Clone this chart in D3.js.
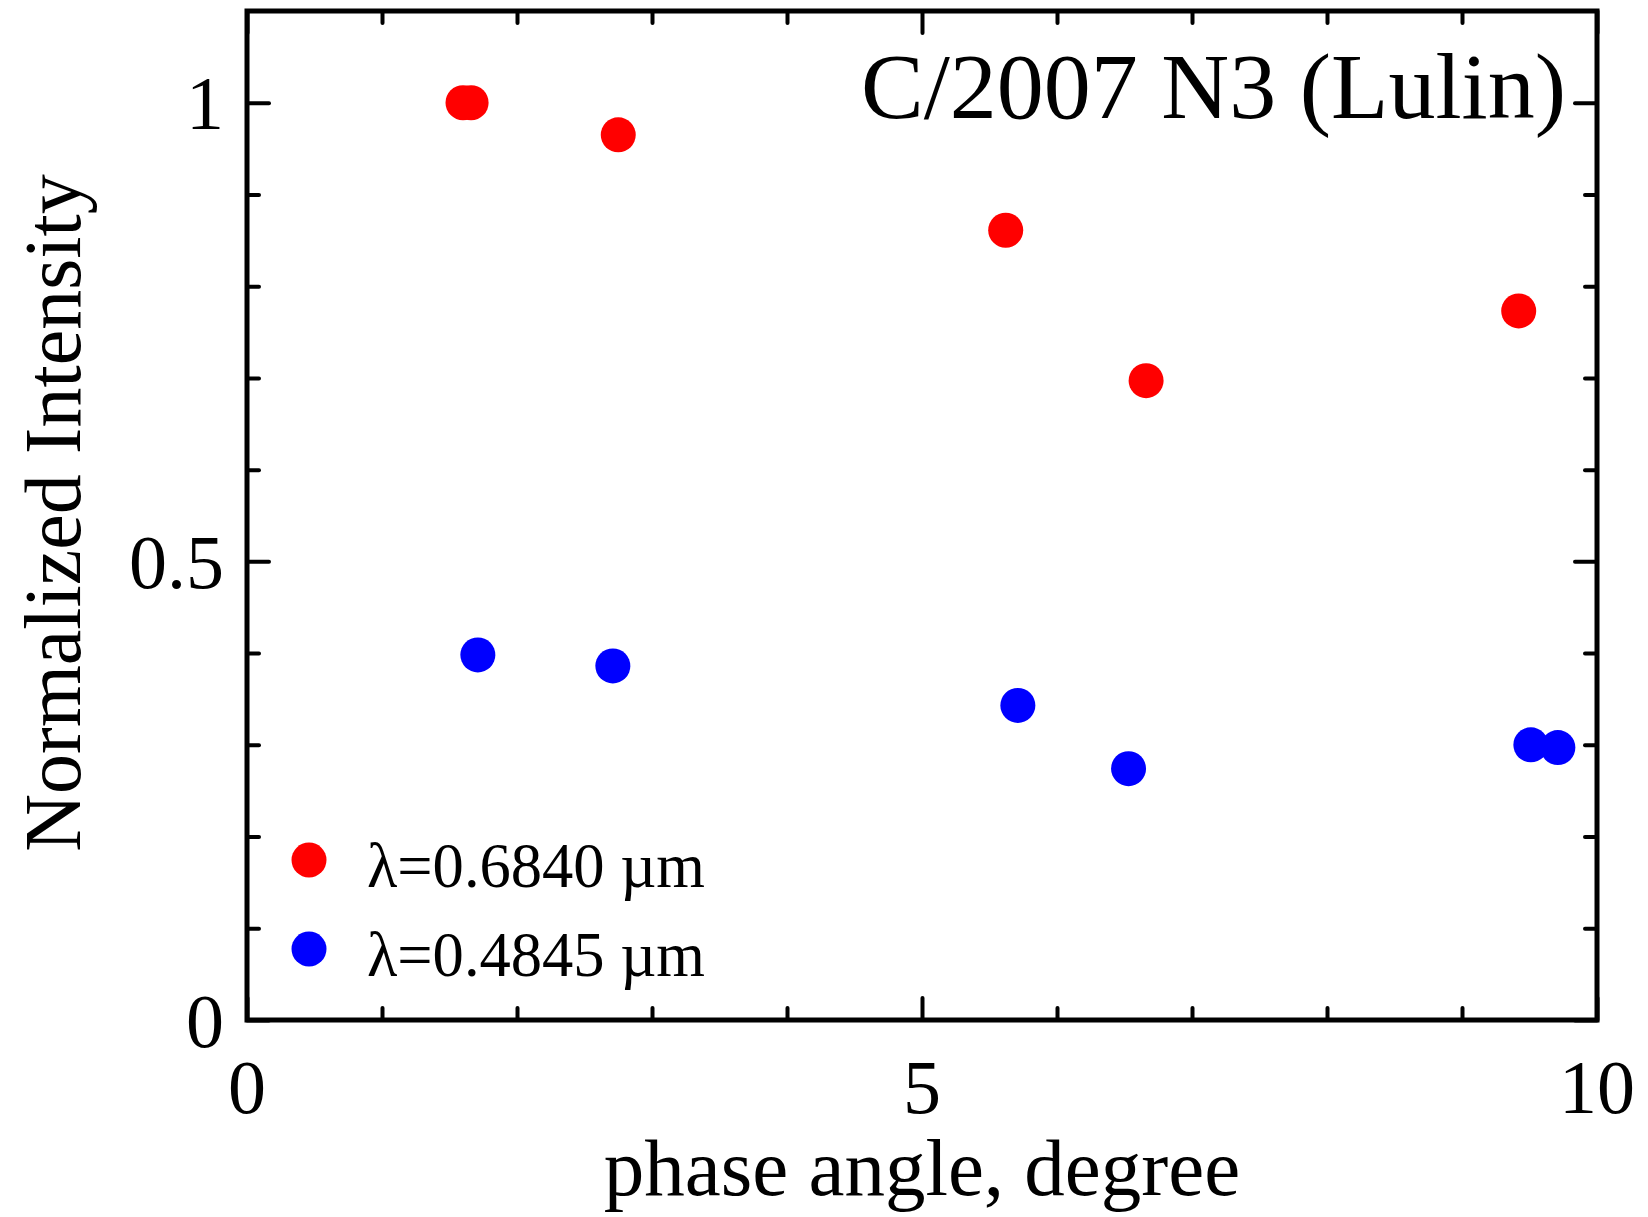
<!DOCTYPE html>
<html>
<head>
<meta charset="utf-8">
<script src="https://cdn.jsdelivr.net/npm/d3@7"></script>
<style>
  html, body { margin: 0; padding: 0; background: #fff; }
  svg text { font-family: "Liberation Serif", "DejaVu Serif", serif; fill: #000; }
</style>
</head>
<body>
<svg id="chart"></svg>
<script>
// data
var redPhase = [1.60, 1.66, 2.75, 5.62, 6.66, 9.42],
    redIntensity = [1.0, 1.0, 0.965, 0.861, 0.697, 0.773],
    bluePhase = [1.71, 2.71, 5.71, 6.53, 9.51, 9.71],
    blueIntensity = [0.398, 0.386, 0.343, 0.274, 0.300, 0.297];
var xMajor = [0, 5, 10],
    yMajor = [0, 0.5, 1],
    yMajorLabels = ['0', '0.5', '1'];
var legendLabels = ['\u03bb=0.6840 \u00b5m', '\u03bb=0.4845 \u00b5m'],
    seriesColors = ['#ff0000', '#0000ff'];

var width = 1648,
    height = 1217,
    margin = { top: 11, right: 51, bottom: 197, left: 247 };

var svg = d3.select('#chart')
    .attr('width', width)
    .attr('height', height);

var x = d3.scaleLinear().domain([0, 10]).range([margin.left, width - margin.right]),
    y = d3.scaleLinear().domain([0, 1.1]).range([height - margin.bottom, margin.top]);

var xMinor = d3.range(0, 11).filter(function (d) { return xMajor.indexOf(d) < 0; }),
    yMinor = d3.range(0, 11).map(function (d) { return d / 10; })
        .filter(function (d) { return yMajor.indexOf(d) < 0; });

//tick marks on all four sides, pointing inward
function tickGroup(axisFn, scale, vals, len, tx, ty) {
    var g = svg.append('g')
        .attr('transform', 'translate(' + tx + ',' + ty + ')')
        .call(axisFn(scale).tickValues(vals).tickSize(len).tickFormat(''));
    g.select('.domain').remove();
    g.selectAll('.tick line')
        .attr('stroke', '#000')
        .attr('stroke-width', 4)
        .attr('stroke-linecap', 'round');
    return g;
}
var x0 = x(0), x1 = x(10), y0 = y(0), y1 = y(1.1);
tickGroup(d3.axisTop, x, xMinor, 12, 0, y0);
tickGroup(d3.axisTop, x, xMajor, 22, 0, y0);
tickGroup(d3.axisBottom, x, xMinor, 12, 0, y1);
tickGroup(d3.axisBottom, x, xMajor, 22, 0, y1);
tickGroup(d3.axisRight, y, yMinor, 12, x0, 0);
tickGroup(d3.axisRight, y, yMajor, 22, x0, 0);
tickGroup(d3.axisLeft, y, yMinor, 12, x1, 0);
tickGroup(d3.axisLeft, y, yMajor, 22, x1, 0);

//frame
svg.append('rect')
    .attr('x', x0)
    .attr('y', y1)
    .attr('width', x1 - x0)
    .attr('height', y0 - y1)
    .attr('fill', 'none')
    .attr('stroke', '#000')
    .attr('stroke-width', 5);

//tick labels
svg.append('g').selectAll('text')
    .data(xMajor).enter().append('text')
    .attr('x', function (d) { return x(d); })
    .attr('y', 1113)
    .attr('text-anchor', 'middle')
    .attr('font-size', 76)
    .text(function (d) { return d; });

svg.append('g').selectAll('text')
    .data(yMajor).enter().append('text')
    .attr('x', 224)
    .attr('y', function (d) { return y(d); })
    .attr('dy', '0.35em')
    .attr('text-anchor', 'end')
    .attr('font-size', 76)
    .text(function (d, i) { return yMajorLabels[i]; });

//axis titles
svg.append('text')
    .attr('x', (x0 + x1) / 2)
    .attr('y', 1195)
    .attr('text-anchor', 'middle')
    .attr('font-size', 81)
    .text('phase angle, degree');

svg.append('text')
    .attr('transform', 'translate(80,' + 513 + ') rotate(-90)')
    .attr('text-anchor', 'middle')
    .attr('font-size', 80)
    .text('Normalized Intensity');

svg.append('text')
    .attr('x', 1566)
    .attr('y', 118)
    .attr('text-anchor', 'end')
    .attr('font-size', 94)
    .text('C/2007 N3 (Lulin)');

//points
var series = [
    { phase: redPhase, value: redIntensity, color: seriesColors[0] },
    { phase: bluePhase, value: blueIntensity, color: seriesColors[1] }
];
series.forEach(function (s) {
    svg.append('g').selectAll('circle')
        .data(s.phase).enter().append('circle')
        .attr('cx', function (d) { return x(d); })
        .attr('cy', function (d, i) { return y(s.value[i]); })
        .attr('r', 17.5)
        .attr('fill', s.color);
});

//legend
var legend = svg.append('g').selectAll('g')
    .data(legendLabels).enter().append('g')
    .attr('transform', function (d, i) { return 'translate(309,' + (860 + i * 89) + ')'; });
legend.append('circle')
    .attr('r', 17.5)
    .attr('fill', function (d, i) { return seriesColors[i]; });
legend.append('text')
    .attr('x', 58)
    .attr('y', 27)
    .attr('font-size', 64)
    .attr('textLength', 338)
    .attr('lengthAdjust', 'spacingAndGlyphs')
    .text(function (d) { return d; });
</script>
</body>
</html>
